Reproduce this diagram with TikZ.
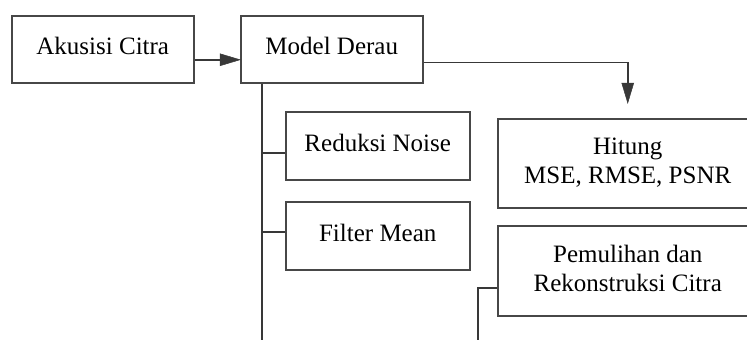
\documentclass[tikz,border=0pt]{standalone}
\usepackage{fontspec}
\newfontfamily\libser{Liberation Serif}
\newcommand{\twoline}[2]{{\libser\begin{tabular}{@{}c@{}}#1\\[-1pt]#2\end{tabular}}}
\begin{document}
\begin{tikzpicture}[x=1pt,y=-1pt,
  box/.style={draw=black!72, line width=1.5pt, anchor=north west, inner sep=0pt,
    font=\fontsize{25}{30}\selectfont\libser},
  onebox/.style={box, text height=17pt, text depth=6pt},
  conn/.style={draw=black!78, line width=1.5pt},
  head/.style={fill=black!78, draw=black!78, line width=0.5pt, line join=miter}]
\useasboundingbox (0,0) rectangle (747,340);
\node[onebox, minimum width=182pt, minimum height=67pt] (akusisi) at (11,15) {\libser Akusisi Citra};
\node[onebox, minimum width=182pt, minimum height=67pt] (model) at (240,15) {\libser Model Derau};
\node[onebox, minimum width=184pt, minimum height=68pt] (reduksi) at (285,111) {\libser Reduksi Noise};
\node[onebox, minimum width=184pt, minimum height=68pt] (filter) at (285,201) {\libser Filter Mean};
\node[box, minimum width=260pt, minimum height=89pt] (hitung) at (497,118) {\twoline{Hitung}{MSE, RMSE, PSNR}};
\node[box, minimum width=260pt, minimum height=90pt] (pemulihan) at (497,225) {\twoline{Pemulihan dan}{Rekonstruksi Citra}};
\coordinate (mbot) at (262,341);
\coordinate (pbot) at (478,341);
\coordinate (tipA) at ([yshift=-10.5pt]model.west);
\coordinate (tipB) at ([yshift=15pt]hitung.north);
\draw[conn] ([yshift=-10.5pt]akusisi.east) -- ([xshift=-18pt]tipA);
\fill[head] (tipA) -- ++(-20,-6) -- ++(0,12) -- cycle;
\draw[conn] ([yshift=-13pt]model.east) -| ([yshift=18pt]tipB);
\fill[head] (tipB) -- ++(-6,-20) -- ++(12,0) -- cycle;
\draw[conn] (model.south -| mbot) -- (mbot);
\draw[conn] ([yshift=-7pt]reduksi.west) -- ([yshift=-7pt]reduksi.west -| mbot);
\draw[conn] ([yshift=4pt]filter.west) -- ([yshift=4pt]filter.west -| mbot);
\draw[conn] ([yshift=-17pt]pemulihan.west) -| (pbot);
\end{tikzpicture}
\end{document}
